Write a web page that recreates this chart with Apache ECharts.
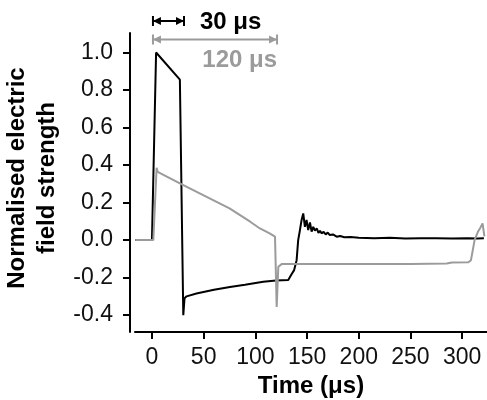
<!DOCTYPE html>
<html>
<head>
<meta charset="UTF-8">
<title>Normalised electric field strength</title>
<script src="https://cdn.jsdelivr.net/npm/echarts@6/dist/echarts.min.js"></script>
<style>
html, body { margin: 0; padding: 0; background: #fff; }
#main { width: 487px; height: 400px; }
</style>
</head>
<body>
<div id="main"></div>
<script type="text/javascript">
// 30 us pulse (black)
var time30 = [-16, 0, 4, 27, 28.7, 30.3, 31.5, 33.5, 43, 60, 75.4, 90, 107.6, 120, 131.8, 135, 137.5, 139.9, 141.4, 143, 144.7,
	146.3, 147.9, 149.5, 151.1, 152.8, 154.4, 156, 157.6, 159.5, 161, 162.5, 164, 166, 168, 170, 172, 175, 178.6, 182, 186,
	192, 200, 215, 230, 245, 260, 275, 290, 305, 315, 321];
var field30 = [0, 0, 1.0, 0.855, 0.85, -0.40, -0.31, -0.30, -0.285, -0.265, -0.25, -0.238, -0.222, -0.216, -0.213, -0.182, -0.16,
	-0.107, 0, 0.05, 0.107, 0.142, 0.071, 0.107, 0.053, 0.094, 0.045, 0.07, 0.05, 0.062, 0.038, 0.05, 0.036, 0.044, 0.03,
	0.04, 0.027, 0.03, 0.018, 0.022, 0.015, 0.016, 0.012, 0.01, 0.012, 0.008, 0.01, 0.01, 0.009, 0.01, 0.009, 0.01];
// 120 us pulse (grey)
var time120 = [-16, 1.3, 4.5, 5.5, 27, 50, 75, 95, 104.4, 113.8, 117, 119, 120.6, 122.2, 125.4, 160, 200, 250, 285, 290,
	306, 308.5, 312, 315.2, 317, 319.7, 321.5];
var field120 = [0, 0, 0.386, 0.364, 0.302, 0.238, 0.169, 0.098, 0.062, 0.036, 0.025, 0.018, -0.356, -0.142, -0.128, -0.128,
	-0.128, -0.127, -0.125, -0.119, -0.118, -0.107, 0, 0.044, 0.06, 0.089, 0.02];
var xTicks = [0, 50, 100, 150, 200, 250, 300];
var yTicks = [-0.4, -0.2, 0, 0.2, 0.4, 0.6, 0.8, 1.0];
var pulseWidths = [30, 120];
var pulseLabels = ['30 μs', '120 μs'];

var FONT = '"Liberation Sans", Arial, sans-serif';
var BLACK = '#000';
var GREY = '#9b9b9b';

function pairs(t, v) {
	var out = [];
	for (var i = 0; i < t.length; i++) out.push([t[i], v[i]]);
	return out;
}

var myChart = echarts.init(document.getElementById('main'));

var option = {
	animation: false,
	backgroundColor: '#fff',
	grid: { left: 135, right: 0, top: 33, bottom: 68, outerBoundsMode: 'none', containLabel: false },
	xAxis: {
		type: 'value',
		min: -16.4,
		max: 324,
		name: 'Time (μs)',
		nameLocation: 'middle',
		nameGap: 37,
		nameTextStyle: { fontFamily: FONT, fontSize: 24, fontWeight: 'bold', color: '#000' },
		splitLine: { show: false },
		axisLine: { onZero: false, lineStyle: { color: '#000', width: 2 } },
		axisTick: { show: true, length: 7, customValues: xTicks, lineStyle: { color: '#000', width: 2 } },
		axisLabel: { customValues: xTicks, fontFamily: FONT, fontSize: 23, color: '#111', margin: 14 }
	},
	yAxis: {
		type: 'value',
		min: -0.49,
		max: 1.104,
		offset: 5,
		name: 'Normalised electric\nfield strength',
		nameLocation: 'middle',
		nameRotate: 90,
		nameGap: 59,
		nameTextStyle: { fontFamily: FONT, fontSize: 24, fontWeight: 'bold', color: '#000', lineHeight: 30, padding: [0, 0, 0, 9] },
		splitLine: { show: false },
		axisLine: { show: true, onZero: false, lineStyle: { color: '#000', width: 2 } },
		axisTick: { show: true, length: 7, customValues: yTicks, lineStyle: { color: '#000', width: 2 } },
		axisLabel: {
			customValues: yTicks, fontFamily: FONT, fontSize: 23, color: '#111', margin: 17,
			formatter: function (v) { return v.toFixed(1); }
		}
	},
	series: [
		{
			name: '30 μs', type: 'line', data: pairs(time30, field30), showSymbol: false,
			lineStyle: { color: BLACK, width: 2 }, itemStyle: { color: BLACK }
		},
		{
			name: '120 μs', type: 'line', data: pairs(time120, field120), showSymbol: false,
			lineStyle: { color: GREY, width: 2 }, itemStyle: { color: GREY }
		}
	]
};
myChart.setOption(option);

// pulse-width arrows above the plot
function bracket(xa, xb, y, color) {
	var h = 4, len = 8;
	return [
		{ type: 'line', shape: { x1: xa, y1: y, x2: xb, y2: y }, style: { stroke: color, lineWidth: 2 } },
		{ type: 'line', shape: { x1: xa, y1: y - 5, x2: xa, y2: y + 5 }, style: { stroke: color, lineWidth: 2 } },
		{ type: 'line', shape: { x1: xb, y1: y - 5, x2: xb, y2: y + 5 }, style: { stroke: color, lineWidth: 2 } },
		{ type: 'polygon', shape: { points: [[xa, y], [xa + len, y - h], [xa + len, y + h]] }, style: { fill: color } },
		{ type: 'polygon', shape: { points: [[xb, y], [xb - len, y - h], [xb - len, y + h]] }, style: { fill: color } }
	];
}
var x0 = myChart.convertToPixel({ xAxisIndex: 0 }, 0);
var x30 = myChart.convertToPixel({ xAxisIndex: 0 }, pulseWidths[0]);
var x120 = myChart.convertToPixel({ xAxisIndex: 0 }, pulseWidths[1]);
var els = [].concat(bracket(x0 + 1, x30 + 1, 21, BLACK), bracket(x0 + 1, x120 + 1, 39.5, GREY));
els.push({ type: 'text', x: x30 + 17, y: 22.5, style: { text: pulseLabels[0], fill: BLACK, font: 'bold 24px ' + FONT, textVerticalAlign: 'middle' } });
els.push({ type: 'text', x: x120 + 1, y: 60, style: { text: pulseLabels[1], fill: GREY, font: 'bold 24px ' + FONT, textAlign: 'right', textVerticalAlign: 'middle' } });
myChart.setOption({ graphic: els });
</script>
</body>
</html>
